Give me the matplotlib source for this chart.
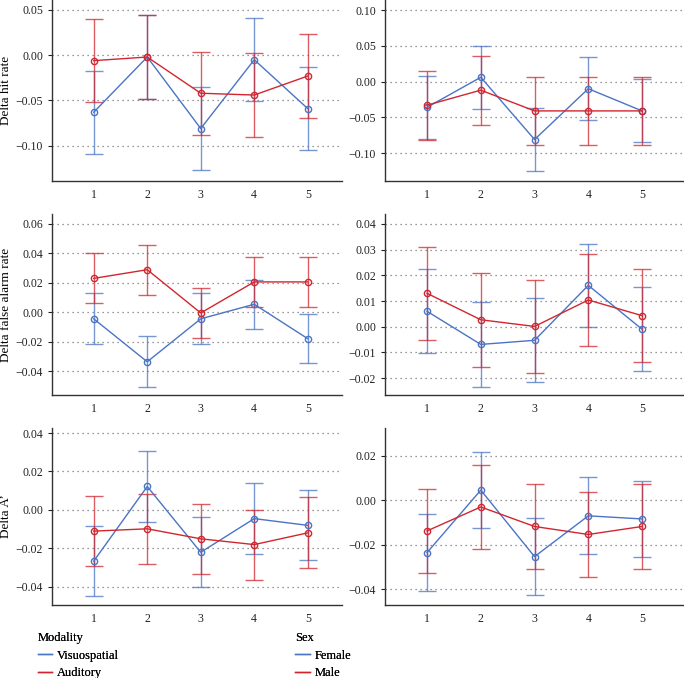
import matplotlib.pyplot as plt
from matplotlib.lines import Line2D
import numpy as np

plt.rcParams["font.family"] = ["Liberation Serif", "DejaVu Serif"]

sessions = [1, 2, 3, 4, 5]

# hit rate
hit_vis = [-0.063, -0.002, -0.081, -0.005, -0.059]
hit_vis_err = [0.046, 0.046, 0.046, 0.046, 0.046]
hit_aud = [-0.006, -0.002, -0.042, -0.044, -0.023]
hit_aud_err = [0.046, 0.046, 0.046, 0.046, 0.046]
hit_fem = [-0.036, 0.006, -0.081, -0.010, -0.041]
hit_fem_err = [0.044, 0.044, 0.044, 0.044, 0.044]
hit_mal = [-0.033, -0.012, -0.041, -0.041, -0.041]
hit_mal_err = [0.048, 0.048, 0.048, 0.048, 0.048]

# false alarm rate
fa_vis = [-0.0045, -0.0337, -0.0045, 0.0054, -0.018]
fa_vis_err = [0.0174, 0.0174, 0.0174, 0.0167, 0.0165]
fa_aud = [0.023, 0.0289, -0.0005, 0.0206, 0.0206]
fa_aud_err = [0.017, 0.017, 0.017, 0.017, 0.017]
fa_fem = [0.006, -0.0069, -0.0053, 0.0161, -0.001]
fa_fem_err = [0.0164, 0.0165, 0.0164, 0.0163, 0.0164]
fa_mal = [0.013, 0.0027, 0.0001, 0.0104, 0.0043]
fa_mal_err = [0.0182, 0.0182, 0.0182, 0.018, 0.0182]

# A'
ap_vis = [-0.0266, 0.0122, -0.022, -0.0045, -0.008]
ap_vis_err = [0.0181, 0.0183, 0.0182, 0.0183, 0.0182]
ap_aud = [-0.011, -0.0098, -0.015, -0.018, -0.0119]
ap_aud_err = [0.0181, 0.0183, 0.0183, 0.0182, 0.0184]
ap_fem = [-0.0236, 0.0046, -0.0254, -0.007, -0.0084]
ap_fem_err = [0.0173, 0.0172, 0.0173, 0.0173, 0.0172]
ap_mal = [-0.0138, -0.003, -0.0118, -0.0154, -0.0118]
ap_mal_err = [0.019, 0.0189, 0.0191, 0.019, 0.019]

BLUE = "#4a74c4"
RED = "#d1262f"


def panel(ax, a, a_err, b, b_err, yticks, ylim, xlim, ylabel=None):
    for vals, errs, col in ((a, a_err, BLUE), (b, b_err, RED)):
        ax.errorbar(sessions, vals, yerr=errs, fmt="none", ecolor=col,
                    elinewidth=1.0, capsize=6.3, capthick=1.0, alpha=0.75, zorder=3)
        ax.plot(sessions, vals, "-o", color=col, lw=1.0, ms=4.5,
                mfc="none", mew=1.0, zorder=4)
    ax.set_xlim(*xlim)
    ax.set_ylim(*ylim)
    ax.set_xticks(sessions)
    ax.set_yticks(yticks)
    ax.set_yticklabels([f"{t:.2f}".replace("-", "\u2212") for t in yticks])
    ax.grid(axis="y", linestyle=(0, (1, 3)), color="#777777", lw=0.9)
    ax.set_axisbelow(True)
    for s in ("top", "right"):
        ax.spines[s].set_visible(False)
    for s in ("left", "bottom"):
        ax.spines[s].set_color("#333333")
        ax.spines[s].set_linewidth(1.0)
    ax.tick_params(axis="x", length=0, pad=6, labelsize=8.5, colors="#222222")
    ax.tick_params(axis="y", length=3, width=0.8, labelsize=8.5, colors="#222222")
    if ylabel:
        ax.set_ylabel(ylabel, fontsize=9.5)
        ax.yaxis.set_label_coords(-0.137, 0.5)


fig = plt.figure(figsize=(6.84, 6.78), dpi=100)

rows = [(0.733, 0.267), (0.4174, 0.267), (0.1077, 0.261)]
lx = (0.076, 0.424)
rx = (0.563, 0.437)

ax1 = fig.add_axes([lx[0], rows[0][0], lx[1], rows[0][1]])
panel(ax1, hit_vis, hit_vis_err, hit_aud, hit_aud_err,
      [-0.10, -0.05, 0.00, 0.05], (-0.139, 0.061), (0.22, 5.64), "Delta hit rate")
ax2 = fig.add_axes([rx[0], rows[0][0], rx[1], rows[0][1]])
panel(ax2, hit_fem, hit_fem_err, hit_mal, hit_mal_err,
      [-0.10, -0.05, 0.00, 0.05, 0.10], (-0.139, 0.114), (0.22, 5.78))

ax3 = fig.add_axes([lx[0], rows[1][0], lx[1], rows[1][1]])
panel(ax3, fa_vis, fa_vis_err, fa_aud, fa_aud_err,
      [-0.04, -0.02, 0.00, 0.02, 0.04, 0.06], (-0.0563, 0.0668), (0.22, 5.64),
      "Delta false alarm rate")
ax4 = fig.add_axes([rx[0], rows[1][0], rx[1], rows[1][1]])
panel(ax4, fa_fem, fa_fem_err, fa_mal, fa_mal_err,
      [-0.02, -0.01, 0.00, 0.01, 0.02, 0.03, 0.04], (-0.0266, 0.0439), (0.22, 5.78))

ax5 = fig.add_axes([lx[0], rows[2][0], lx[1], rows[2][1]])
panel(ax5, ap_vis, ap_vis_err, ap_aud, ap_aud_err,
      [-0.04, -0.02, 0.00, 0.02, 0.04], (-0.0494, 0.0426), (0.22, 5.64), "Delta A\u2019")
ax6 = fig.add_axes([rx[0], rows[2][0], rx[1], rows[2][1]])
panel(ax6, ap_fem, ap_fem_err, ap_mal, ap_mal_err,
      [-0.04, -0.02, 0.00, 0.02], (-0.0472, 0.0326), (0.22, 5.78))


def legend(title, labels, x):
    handles = [Line2D([], [], color=BLUE, lw=1.0), Line2D([], [], color=RED, lw=1.0)]
    lg = fig.legend(handles, labels, title=title, loc="upper left",
                    bbox_to_anchor=(x, 0.068), frameon=False, fontsize=9,
                    title_fontsize=9, handlelength=1.15, handletextpad=0.4,
                    labelspacing=0.45, borderaxespad=0, borderpad=0,
                    alignment="left")
    fig.add_artist(lg)


legend("Modality", ["Visuospatial", "Auditory"], 0.055)
legend("Sex", ["Female", "Male"], 0.432)

fig.savefig("out.png", dpi=100)
